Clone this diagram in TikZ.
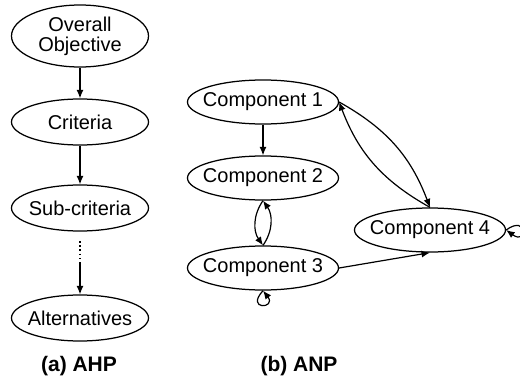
\documentclass[tikz,border=0pt]{standalone}
\usepackage{fontspec}
\setmainfont{Liberation Sans}
\usetikzlibrary{shapes.geometric,arrows.meta}
\begin{document}
\begin{tikzpicture}[x=1pt,y=-1pt,
  every node/.style={font=\fontsize{20}{20}\selectfont},
  ahpbox/.style={draw, ellipse, line width=1.25pt, inner sep=0pt,
    minimum width=137pt, minimum height=46pt},
  anpbox/.style={draw, ellipse, line width=1.25pt, inner sep=0pt,
    minimum width=151pt, minimum height=44pt},
  link/.style={line width=1.2pt, -{Latex[length=8.5pt,width=7pt]}},
  dotline/.style={line width=1.5pt, dash pattern=on 1.6pt off 2.6pt},
  caption/.style={font=\bfseries\fontsize{21}{21}\selectfont}
]
\useasboundingbox (0,0) rectangle (520,380);

% AHP hierarchy
\node[ahpbox, minimum height=62pt,
      label={[align=center]center:Overall\\Objective}] (obj) at (80,36) {};
\node[ahpbox, label=center:Criteria] (crit) at (80,122) {};
\node[ahpbox, label=center:Sub-criteria] (sub) at (80,208) {};
\node[ahpbox, label=center:Alternatives] (alt) at (80,318) {};
\coordinate (gapA) at (80,241);
\coordinate (gapB) at (80,262);

\draw[link] (obj) -- (crit);
\draw[link] (crit) -- (sub);
\draw[dotline] (gapA) -- (gapB);
\draw[link] (gapB) -- (alt);

\node[caption] (capA) at (79,366) {(a) AHP};

% ANP network
\node[anpbox, label=center:Component 1] (c1) at (263,102) {};
\node[anpbox, label=center:Component 2] (c2) at (263,178) {};
\node[anpbox, label=center:Component 3] (c3) at (263,268) {};
\node[anpbox, label=center:Component 4] (c4) at (430,230) {};

\draw[link] (c1) -- (c2);
\draw[link] (c2.south) to[bend right=35] (c3.north);
\draw[link] (c3.north) to[bend right=35] (c2.south);
\draw[link] (c1.east) to[bend left=20] (c4.north);
\draw[link] (c4.north) to[bend left=20] (c1.east);
\draw[link] (c3.east) -- (c4.south);

% feedback loops
\draw[link] (c3.south) .. controls +(-18,20) and +(14,18) .. (c3.south);
\draw[link] (c4.east) .. controls +(22,-16) and +(22,16) .. (c4.east);

\node[caption] (capB) at (299,366) {(b) ANP};
\end{tikzpicture}
\end{document}
